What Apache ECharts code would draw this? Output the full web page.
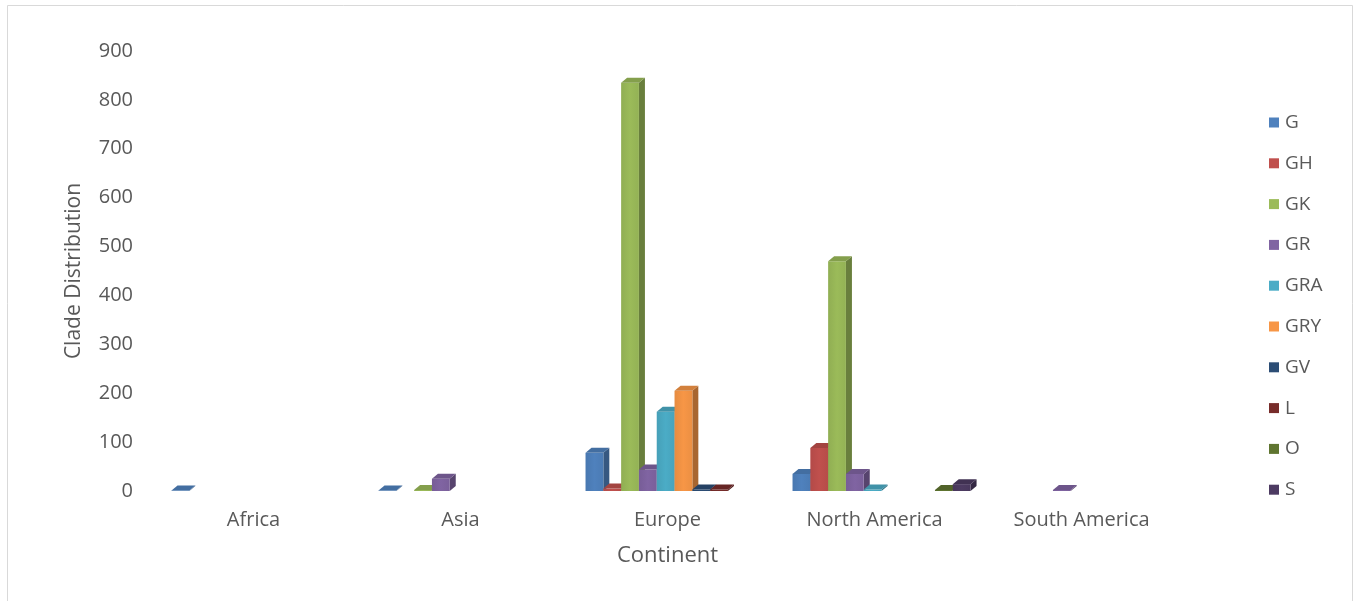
<!DOCTYPE html>
<html>
<head>
<meta charset="utf-8">
<script src="https://cdn.jsdelivr.net/npm/echarts@6/dist/echarts.min.js"></script>
<style>
  html, body { margin: 0; padding: 0; background: #ffffff; }
  #chart { width: 1354px; height: 601px; }
</style>
</head>
<body>
<div id="chart"></div>
<script>
// Clade counts per continent
const continents = ['Africa', 'Asia', 'Europe', 'North America', 'South America'];
const cladeNames = ['G', 'GH', 'GK', 'GR', 'GRA', 'GRY', 'GV', 'L', 'O', 'S'];

const G   = [1, 1, 78, 35, 0];
const GH  = [0, 0, 5, 88, 0];
const GK  = [0, 2, 835, 470, 0];
const GR  = [0, 25, 44, 35, 2];
const GRA = [0, 0, 162, 3, 0];
const GRY = [0, 0, 205, 0, 0];
const GV  = [0, 0, 3, 0, 0];
const L   = [0, 0, 3, 0, 0];
const O   = [0, 0, 0, 2, 0];
const S   = [0, 0, 0, 14, 0];

const yTicks = [0, 100, 200, 300, 400, 500, 600, 700, 800, 900];

const cladeValues = [G, GH, GK, GR, GRA, GRY, GV, L, O, S];
const cladeColors = ['#4F81BD', '#C0504D', '#9BBB59', '#8064A2', '#4BACC6',
                     '#F79646', '#2C4D75', '#772C2A', '#5F7530', '#4D3B62'];

const TEXT = '#595959';
const FONT = '"Open Sans", sans-serif';

// share of a category band taken by one column slot, and where the cluster starts
const SLOT_FRAC = 0.086;
const LEFT_FRAC = 0.396;
const DEPTH_X = 6;
const DEPTH_Y = 5;

function shade(hex, f) {
  const n = parseInt(hex.slice(1), 16);
  let r = (n >> 16) & 255, g = (n >> 8) & 255, b = n & 255;
  if (f < 1) { r *= f; g *= f; b *= f; }
  else { r = r + (255 - r) * (f - 1); g = g + (255 - g) * (f - 1); b = b + (255 - b) * (f - 1); }
  return 'rgb(' + Math.round(r) + ',' + Math.round(g) + ',' + Math.round(b) + ')';
}

// draws a column with a front face, a top face and a right side face
function columnRenderer(slotIndex, color) {
  return function (params, api) {
    const cat = api.value(0);
    const val = api.value(1);
    if (!(val > 0)) return;
    const band = api.size([1, 0])[0];
    const slot = band * SLOT_FRAC;
    const base = api.coord([cat, 0]);
    const top = api.coord([cat, val]);
    const x0 = base[0] - band * LEFT_FRAC + slotIndex * slot;
    const w = slot;
    const yB = base[1];
    const yT = top[1];
    return {
      type: 'group',
      children: [
        {
          type: 'polygon',
          shape: { points: [[x0 + w, yT], [x0 + w + DEPTH_X, yT - DEPTH_Y], [x0 + w + DEPTH_X, yB - DEPTH_Y], [x0 + w, yB]] },
          style: { fill: shade(color, 0.68) }
        },
        {
          type: 'rect',
          shape: { x: x0, y: yT, width: w, height: Math.max(yB - yT, 0.5) },
          style: {
            fill: {
              type: 'linear', x: 0, y: 0, x2: 1, y2: 0,
              colorStops: [{ offset: 0, color: shade(color, 0.93) }, { offset: 0.5, color: color }, { offset: 1, color: shade(color, 0.95) }]
            }
          }
        },
        {
          type: 'polygon',
          shape: { points: [[x0, yT], [x0 + w, yT], [x0 + w + DEPTH_X, yT - DEPTH_Y], [x0 + DEPTH_X, yT - DEPTH_Y]] },
          style: { fill: shade(color, 0.85) }
        }
      ]
    };
  };
}

const series = cladeNames.map(function (name, i) {
  return {
    name: name,
    type: 'custom',
    renderItem: columnRenderer(i, cladeColors[i]),
    itemStyle: { color: cladeColors[i] },
    encode: { x: 0, y: 1 },
    data: cladeValues[i].map(function (v, c) { return [c, v]; }),
    z: 2 + i
  };
});

const chart = echarts.init(document.getElementById('chart'), null, { renderer: 'canvas' });
chart.setOption({
  animation: false,
  backgroundColor: '#ffffff',
  color: cladeColors,
  textStyle: { fontFamily: FONT },
  graphic: [{
    type: 'rect',
    shape: { x: 7.5, y: 5.5, width: 1345, height: 610 },
    style: { fill: 'none', stroke: '#d9d9d9', lineWidth: 1 },
    silent: true
  }],
  grid: { left: 150, right: 169, top: 51, bottom: 110, containLabel: false },
  legend: {
    orient: 'vertical',
    left: 1264,
    top: 108,
    icon: 'rect',
    itemWidth: 10,
    itemHeight: 10,
    itemGap: 21.8,
    data: cladeNames,
    textStyle: { color: TEXT, fontSize: 19, fontFamily: FONT, lineHeight: 19, padding: [0, 0, 0, 1] }
  },
  xAxis: {
    type: 'category',
    data: continents,
    name: 'Continent',
    nameLocation: 'middle',
    nameGap: 54,
    nameTextStyle: { color: TEXT, fontSize: 22, fontFamily: FONT },
    axisLine: { show: false },
    axisTick: { show: false },
    splitLine: { show: false },
    axisLabel: { color: TEXT, fontSize: 20, fontFamily: FONT, margin: 19 }
  },
  yAxis: {
    type: 'value',
    min: yTicks[0],
    max: yTicks[yTicks.length - 1],
    interval: 100,
    name: 'Clade Distribution',
    nameLocation: 'middle',
    nameGap: 65,
    nameTextStyle: { color: TEXT, fontSize: 21, fontFamily: FONT },
    axisLine: { show: false },
    axisTick: { show: false },
    splitLine: { show: false },
    axisLabel: { color: TEXT, fontSize: 20, fontFamily: FONT, margin: 17, lineHeight: 20, padding: [4, 0, 0, 0] }
  },
  series: series
});
</script>
</body>
</html>
